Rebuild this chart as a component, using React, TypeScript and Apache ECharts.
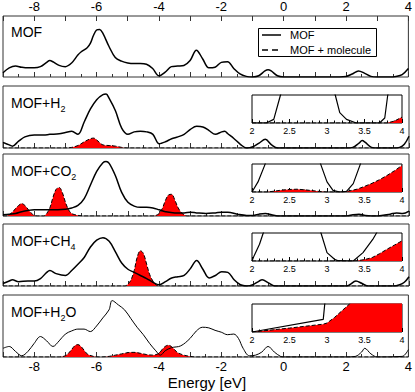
import React, { useEffect, useRef } from "react";
import * as echarts from "echarts";

const FONT = "'Liberation Sans', Arial, Helvetica, sans-serif";

// ---------- Panel labels / ticks ----------
const panelLabels = [
  "{m|MOF}",
  "{m|MOF+H}{s|2}",
  "{m|MOF+CO}{s|2}",
  "{m|MOF+CH}{s|4}",
  "{m|MOF+H}{s|2}{m|O}",
];
const energyTicks = [-8, -6, -4, -2, 0, 2, 4];
const insetTicks = [2, 2.5, 3, 3.5, 4];
const legendNames = ["MOF", "MOF + molecule"];

// ---------- Panel 1: MOF ----------
const p1E = [-9, -8.8, -8.6, -8.4, -8.2, -8.0, -7.8, -7.6, -7.5, -7.4, -7.2, -7.0, -6.8, -6.6, -6.5, -6.3, -6.2, -6.1, -6.0, -5.9, -5.8, -5.6, -5.4, -5.2, -5.0, -4.8, -4.6, -4.4, -4.2, -4.0, -3.8, -3.6, -3.4, -3.2, -3.0, -2.8, -2.6, -2.4, -2.2, -2.0, -1.8, -1.6, -1.4, -1.2, -1.0, -0.8, -0.6, -0.5, -0.4, -0.2, 0, 0.5, 1, 1.5, 2, 2.2, 2.4, 2.6, 2.8, 3.0, 3.2, 3.4, 3.6, 3.8, 4];
const p1Dos = [0.07, 0.15, 0.18, 0.16, 0.15, 0.15, 0.17, 0.24, 0.27, 0.25, 0.19, 0.17, 0.23, 0.36, 0.41, 0.48, 0.55, 0.68, 0.77, 0.78, 0.72, 0.5, 0.32, 0.26, 0.23, 0.22, 0.22, 0.21, 0.14, 0.02, 0.08, 0.17, 0.18, 0.19, 0.27, 0.44, 0.3, 0.15, 0.16, 0.24, 0.25, 0.14, 0.05, 0.01, 0.0, 0.02, 0.1, 0.12, 0.1, 0.02, 0, 0, 0, 0, 0.01, 0.05, 0.1, 0.06, 0.01, 0, 0, 0, 0.01, 0.04, 0.14];

// ---------- Panel 2: MOF+H2 ----------
const p2E = [-9, -8.8, -8.7, -8.5, -8.3, -8.0, -7.7, -7.5, -7.2, -7.0, -6.8, -6.6, -6.4, -6.2, -6.0, -5.8, -5.7, -5.6, -5.4, -5.2, -5.0, -4.8, -4.6, -4.4, -4.2, -4.0, -3.8, -3.6, -3.4, -3.2, -3.0, -2.8, -2.6, -2.4, -2.2, -2.0, -1.9, -1.8, -1.6, -1.4, -1.2, -1.0, -0.8, -0.6, -0.4, -0.2, 0, 1, 2, 2.2, 2.4, 2.5, 2.6, 2.8, 3.0, 3.5, 3.7, 3.85, 4];
const p2Dos = [0.09, 0.05, 0.03, 0.11, 0.18, 0.21, 0.21, 0.22, 0.23, 0.25, 0.27, 0.22, 0.42, 0.63, 0.78, 0.86, 0.87, 0.8, 0.6, 0.32, 0.22, 0.26, 0.27, 0.26, 0.22, 0.07, 0.1, 0.15, 0.18, 0.22, 0.3, 0.35, 0.34, 0.28, 0.22, 0.26, 0.27, 0.23, 0.15, 0.06, 0.0, 0.02, 0.08, 0.14, 0.05, 0.0, 0, 0, 0, 0.01, 0.08, 0.12, 0.09, 0.01, 0, 0, 0.01, 0.06, 0.19];
const p2MolE = [-9, -7.0, -6.8, -6.6, -6.4, -6.2, -6.1, -6.0, -5.8, -5.6, -5.4, -5.2, -5.0, 4];
const p2MolDos = [0, 0, 0.01, 0.04, 0.1, 0.15, 0.16, 0.13, 0.05, 0.04, 0.03, 0.01, 0, 0];

// ---------- Panel 3: MOF+CO2 ----------
const p3E = [-9, -8.8, -8.6, -8.4, -8.2, -8.0, -7.5, -7.0, -6.8, -6.6, -6.4, -6.2, -6.0, -5.8, -5.7, -5.6, -5.4, -5.2, -5.0, -4.8, -4.6, -4.4, -4.2, -4.0, -3.8, -3.5, -3.2, -3.0, -2.8, -2.5, -2.2, -2.0, -1.8, -1.5, -1.2, -1.0, -0.8, -0.6, -0.4, -0.2, 0, 2, 2.2, 2.4, 2.6, 3, 3.4, 3.6, 3.8, 4];
const p3Dos = [0.02, 0.03, 0.04, 0.07, 0.09, 0.1, 0.1, 0.11, 0.13, 0.17, 0.28, 0.5, 0.72, 0.86, 0.88, 0.85, 0.65, 0.38, 0.22, 0.16, 0.14, 0.14, 0.13, 0.1, 0.07, 0.05, 0.05, 0.06, 0.05, 0.04, 0.05, 0.06, 0.06, 0.03, 0.01, 0.01, 0.03, 0.04, 0.02, 0.0, 0, 0, 0.02, 0.03, 0.01, 0, 0.03, 0.05, 0.04, 0.08];
const p3MolE = [-9, -8.9, -8.8, -8.7, -8.6, -8.5, -8.4, -8.3, -8.2, -8.1, -8.0, -7.9, -7.7, -7.6, -7.5, -7.4, -7.3, -7.2, -7.1, -7.0, -6.9, -6.8, -6.6, -6.4, -4.2, -4.1, -4.0, -3.9, -3.8, -3.7, -3.6, -3.5, -3.4, -3.3, -3.2, -3.1, 4];
const p3MolDos = [0, 0, 0.02, 0.06, 0.12, 0.17, 0.2, 0.17, 0.11, 0.05, 0.01, 0, 0, 0.04, 0.13, 0.3, 0.43, 0.46, 0.38, 0.22, 0.1, 0.04, 0.01, 0, 0, 0.01, 0.04, 0.12, 0.25, 0.34, 0.35, 0.26, 0.14, 0.06, 0.02, 0, 0];

// ---------- Panel 4: MOF+CH4 ----------
const p4E = [-9, -8.8, -8.7, -8.5, -8.2, -8.0, -7.8, -7.6, -7.5, -7.3, -7.0, -6.8, -6.6, -6.4, -6.2, -6.0, -5.8, -5.6, -5.4, -5.2, -5.0, -4.8, -4.6, -4.4, -4.2, -4.0, -3.8, -3.6, -3.4, -3.2, -3.0, -2.8, -2.6, -2.4, -2.2, -2.0, -1.8, -1.6, -1.4, -1.2, -1.0, -0.8, -0.7, -0.5, -0.3, 0, 2, 2.1, 2.3, 2.5, 2.7, 3.5, 3.7, 3.85, 4];
const p4Dos = [0.04, 0.08, 0.1, 0.07, 0.08, 0.08, 0.12, 0.22, 0.25, 0.2, 0.17, 0.25, 0.35, 0.46, 0.63, 0.74, 0.78, 0.72, 0.55, 0.37, 0.27, 0.22, 0.17, 0.12, 0.06, 0.02, 0.07, 0.13, 0.15, 0.17, 0.28, 0.41, 0.27, 0.13, 0.17, 0.23, 0.22, 0.1, 0.02, 0.0, 0.02, 0.08, 0.1, 0.05, 0.0, 0, 0, 0.02, 0.08, 0.04, 0.0, 0.0, 0.02, 0.06, 0.15];
const p4MolE = [-9, -5.1, -5.0, -4.9, -4.8, -4.7, -4.6, -4.5, -4.4, -4.3, -4.2, -4.1, -4.0, 4];
const p4MolDos = [0, 0, 0.03, 0.1, 0.25, 0.47, 0.57, 0.52, 0.35, 0.18, 0.08, 0.02, 0, 0];

// ---------- Panel 5: MOF+H2O ----------
const p5E = [-9, -8.8, -8.6, -8.4, -8.2, -8.0, -7.8, -7.6, -7.4, -7.2, -7.0, -6.8, -6.6, -6.4, -6.2, -6.0, -5.8, -5.6, -5.5, -5.3, -5.1, -4.9, -4.7, -4.5, -4.3, -4.1, -3.95, -3.8, -3.6, -3.3, -3.0, -2.8, -2.6, -2.4, -2.2, -2.0, -1.8, -1.6, -1.45, -1.3, -1.1, -0.9, -0.7, -0.5, -0.3, -0.1, 0, 2, 2.3, 2.5, 2.6, 2.8, 3.0, 3.8, 4];
const p5Dos = [0.14, 0.17, 0.09, 0.02, 0.09, 0.22, 0.33, 0.26, 0.17, 0.26, 0.37, 0.42, 0.45, 0.45, 0.41, 0.5, 0.63, 0.76, 0.91, 0.84, 0.76, 0.62, 0.48, 0.36, 0.22, 0.1, 0.03, 0.1, 0.15, 0.18, 0.3, 0.42, 0.48, 0.47, 0.43, 0.4, 0.36, 0.37, 0.3, 0.14, 0.02, 0.03, 0.08, 0.17, 0.08, 0.01, 0, 0, 0.01, 0.08, 0.14, 0.05, 0.0, 0.01, 0.12];
const p5MolE = [-9, -7.2, -7.0, -6.9, -6.8, -6.7, -6.6, -6.5, -6.4, -6.3, -6.1, -5.9, -5.6, -5.4, -5.2, -5.0, -4.8, -4.6, -4.4, -4.2, -4.0, -3.9, -3.8, -3.7, -3.6, -3.5, -3.4, -3.2, -3.0, -2.8, 4];
const p5MolDos = [0, 0, 0.02, 0.06, 0.12, 0.18, 0.2, 0.17, 0.11, 0.05, 0.01, 0, 0.01, 0.03, 0.05, 0.07, 0.075, 0.06, 0.04, 0.03, 0.06, 0.12, 0.17, 0.19, 0.17, 0.12, 0.07, 0.03, 0.01, 0, 0];

// ---------- Insets (2 .. 4 eV, zoomed DOS) ----------
const i2E = [2.0, 2.19, 2.29, 2.38, 2.45, 3.05, 3.11, 3.17, 3.26, 3.39, 3.7, 3.77, 3.81, 3.88, 4.0];
const i2Dos = [0, 0, 0.13, 1.0, 1.6, 1.6, 1.0, 0.37, 0.13, 0, 0, 0.18, 1.0, 1.6, 1.6];
const i2MolE = [2.0, 3.8, 3.9, 4.0];
const i2MolDos = [0, 0, 0.07, 0.21];

const i3E = [2.0, 2.08, 2.17, 2.25, 2.85, 2.92, 3.0, 3.08, 3.17, 3.26, 3.35, 3.44, 3.52, 4.0];
const i3Dos = [0, 0.36, 0.96, 1.6, 1.6, 0.96, 0.36, 0.06, 0, 0.02, 0.3, 0.96, 1.6, 1.6];
const i3MolE = [2.0, 2.2, 2.3, 2.4, 2.5, 2.6, 2.7, 2.8, 2.9, 3.0, 3.2, 3.3, 3.4, 3.5, 3.6, 3.7, 3.8, 3.9, 4.0];
const i3MolDos = [0, 0, 0.03, 0.07, 0.09, 0.1, 0.08, 0.05, 0.02, 0, 0, 0.04, 0.1, 0.2, 0.31, 0.44, 0.59, 0.76, 0.95];

const i4E = [2.0, 2.03, 2.1, 2.15, 2.22, 2.85, 2.92, 3.0, 3.1, 3.15, 3.35, 3.48, 3.61, 3.66, 3.75, 4.0];
const i4Dos = [0, 0.2, 0.6, 1.0, 1.6, 1.6, 1.0, 0.3, 0.06, 0.01, 0, 0.3, 0.77, 1.0, 1.6, 1.6];
const i4MolE = [2.0, 3.3, 3.4, 3.5, 3.6, 3.7, 3.8, 3.9, 4.0];
const i4MolDos = [0, 0, 0.01, 0.05, 0.12, 0.26, 0.42, 0.57, 0.72];

const i5E = [2.0, 2.95, 2.97, 3.0, 4.0];
const i5Dos = [0, 0.45, 1.0, 1.6, 1.6];
const i5MolE = [2.0, 2.5, 2.95, 3.0, 3.1, 3.2, 3.3, 3.4, 4.0];
const i5MolDos = [0, 0.14, 0.28, 0.32, 0.52, 0.76, 1.0, 1.2, 1.6];

// ---------- layout ----------
const LEFT = 3;
const WIDTH = 406;
const PH = 62;
const panelTops = [15, 86, 154, 224, 295];
const INSET_LEFT = 252;
const INSET_W = 150;
const INSET_H = 28;
const insetTops = [95, 164, 233, 304];

const zip = (xs: number[], ys: number[]) => xs.map((x, i) => [x, ys[i]]);

const mainCurves = [
  { e: p1E, d: p1Dos },
  { e: p2E, d: p2Dos },
  { e: p3E, d: p3Dos },
  { e: p4E, d: p4Dos },
  { e: p5E, d: p5Dos },
];
const molCurves = [
  null,
  { e: p2MolE, d: p2MolDos },
  { e: p3MolE, d: p3MolDos },
  { e: p4MolE, d: p4MolDos },
  { e: p5MolE, d: p5MolDos },
];
const insetCurves = [
  { e: i2E, d: i2Dos, me: i2MolE, md: i2MolDos },
  { e: i3E, d: i3Dos, me: i3MolE, md: i3MolDos },
  { e: i4E, d: i4Dos, me: i4MolE, md: i4MolDos },
  { e: i5E, d: i5Dos, me: i5MolE, md: i5MolDos },
];

const FRAME = "#333";
const evenLabel = (v: number) => (energyTicks.indexOf(v) >= 0 ? String(v) : "");

export default function App() {
  const ref = useRef<HTMLDivElement>(null);
  useEffect(() => {
    if (!ref.current) return;
    const chart = echarts.init(ref.current, undefined, { renderer: "svg" });

    const grid: any[] = [];
    const xAxis: any[] = [];
    const yAxis: any[] = [];
    const series: any[] = [];

    panelTops.forEach((top) => {
      grid.push({
        left: LEFT, top, width: WIDTH, height: PH, show: true,
        borderColor: FRAME, borderWidth: 1, backgroundColor: "transparent",
      });
    });
    insetTops.forEach((top) => {
      grid.push({
        left: INSET_LEFT, top, width: INSET_W, height: INSET_H, show: true,
        borderColor: "#000", borderWidth: 1, backgroundColor: "#fff", z: 5,
      });
    });

    // main bottom axes
    panelTops.forEach((_, i) => {
      xAxis.push({
        type: "value", gridIndex: i, min: -9, max: 4, interval: 1, position: "bottom",
        axisLine: { show: false }, splitLine: { show: false },
        axisTick: { show: true, inside: true, length: 5, lineStyle: { color: FRAME } },
        minorTick: { show: true, splitNumber: 2, length: 3, lineStyle: { color: FRAME } },
        axisLabel: {
          show: i === 4, interval: 0, formatter: evenLabel, fontSize: 13,
          color: "#000", fontFamily: FONT, margin: 3,
        },
      });
    });
    // top axis on panel 1
    xAxis.push({
      type: "value", gridIndex: 0, min: -9, max: 4, interval: 1, position: "top",
      axisLine: { show: false }, splitLine: { show: false },
      axisTick: { show: true, inside: true, length: 5, lineStyle: { color: FRAME } },
      axisLabel: {
        show: true, interval: 0, formatter: evenLabel, fontSize: 13,
        color: "#000", fontFamily: FONT, margin: 3,
      },
    });
    // inset axes
    insetTops.forEach((_, k) => {
      xAxis.push({
        type: "value", gridIndex: 5 + k, min: 2, max: 4, interval: 0.5, position: "bottom",
        axisLine: { show: false }, splitLine: { show: false },
        axisTick: { show: true, inside: true, length: 4, lineStyle: { color: "#000" } },
        minorTick: { show: true, splitNumber: 5, length: 2.5, lineStyle: { color: "#000" } },
        axisLabel: {
          show: true, interval: 0,
          formatter: (v: number) => (insetTicks.indexOf(v) >= 0 ? String(v) : ""),
          fontSize: 9, color: "#000", fontFamily: FONT, margin: 3,
        },
        z: 6,
      });
    });

    for (let g = 0; g < 9; g++) {
      yAxis.push({ type: "value", gridIndex: g, min: 0, max: 1, show: false });
    }

    // main series
    mainCurves.forEach((c, i) => {
      const mol = molCurves[i];
      if (mol) {
        series.push({
          type: "line", xAxisIndex: i, yAxisIndex: i, data: zip(mol.e, mol.d),
          smooth: 0.35, symbol: "none", z: 2,
          lineStyle: { color: "#000", width: 1, type: "dashed" },
          areaStyle: { color: "#ff0000", opacity: 1 },
        });
      }
      series.push({
        type: "line", xAxisIndex: i, yAxisIndex: i, data: zip(c.e, c.d),
        smooth: 0.35, symbol: "none", z: 3,
        lineStyle: { color: "#000", width: i === 4 ? 1 : 1.5 },
      });
    });

    // inset series
    insetCurves.forEach((c, k) => {
      const ax = 6 + k;
      const gy = 5 + k;
      series.push({
        type: "line", xAxisIndex: ax, yAxisIndex: gy, data: zip(c.me, c.md),
        smooth: false, symbol: "none", z: 7, clip: true,
        lineStyle: { color: "#000", width: 1, type: "dashed" },
        areaStyle: { color: "#ff0000", opacity: 1 },
      });
      series.push({
        type: "line", xAxisIndex: ax, yAxisIndex: gy, data: zip(c.e, c.d),
        smooth: false, symbol: "none", z: 8, clip: true,
        lineStyle: { color: "#000", width: 1.2 },
      });
    });

    const graphic: any[] = [];
    panelLabels.forEach((txt, i) => {
      graphic.push({
        type: "text", x: 11, y: panelTops[i] + 17, z: 20,
        style: {
          text: txt, verticalAlign: "middle", align: "left",
          rich: {
            m: { fontSize: 14, fontFamily: FONT, fill: "#000", lineHeight: 14, verticalAlign: "middle" },
            s: { fontSize: 9, fontFamily: FONT, fill: "#000", lineHeight: 20, verticalAlign: "bottom" },
          },
        },
      });
    });
    // legend box
    graphic.push(
      { type: "rect", z: 20, shape: { x: 258.5, y: 28.5, width: 118, height: 28 }, style: { fill: "#fff", stroke: "#000", lineWidth: 1 } },
      { type: "line", z: 21, shape: { x1: 262, y1: 35, x2: 281, y2: 35 }, style: { stroke: "#000", lineWidth: 1.5 } },
      { type: "line", z: 21, shape: { x1: 262, y1: 50, x2: 281, y2: 50 }, style: { stroke: "#000", lineWidth: 1.5, lineDash: [6, 4] } },
      { type: "text", z: 21, x: 290, y: 35, style: { text: legendNames[0], font: `11px ${FONT}`, fill: "#000", verticalAlign: "middle" } },
      { type: "text", z: 21, x: 290, y: 50, style: { text: legendNames[1], font: `11px ${FONT}`, fill: "#000", verticalAlign: "middle" } },
      { type: "text", z: 21, x: 207, y: 382.5, style: { text: "Energy [eV]", font: `15px ${FONT}`, fill: "#000", align: "center", verticalAlign: "middle" } },
    );

    chart.setOption({
      animation: false,
      backgroundColor: "#fff",
      textStyle: { fontFamily: FONT },
      grid, xAxis, yAxis, series, graphic,
    });
    return () => chart.dispose();
  }, []);

  return (
    <div
      ref={ref}
      style={{ position: "fixed", left: 0, top: 0, width: 415, height: 392 }}
    />
  );
}
